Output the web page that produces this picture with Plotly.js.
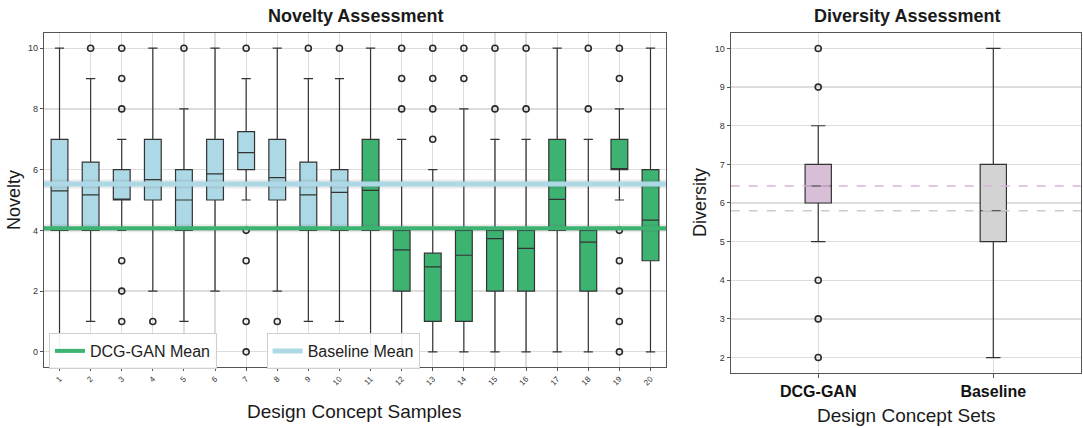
<!DOCTYPE html>
<html>
<head>
<meta charset="utf-8">
<script src="https://cdn.plot.ly/plotly-3.0.1.min.js"></script>
<style>html,body{margin:0;padding:0;background:#fff;}#chart{width:1083px;height:428px;}</style>
</head>
<body>
<div id="chart"></div>
<script>
// ---- Novelty assessment data (per design concept sample) ----
const novSamples = [1,2,3,4,5,6,7,8,9,10,11,12,13,14,15,16,17,18,19,20];
const novTickLabels = ["1","2","3","4","5","6","7","8","9","10","11","12","13","14","15","16","17","18","19","20"];
const novQ1     = [4, 4, 5, 5, 4, 5, 6,    5, 4,    4,    4, 2,    1,    1, 2,    2,    4, 2,    6, 3];
const novMedian = [5.3, 5.17, 5, 5.67, 5, 5.86, 6.56, 5.74, 5.17, 5.25, 5.32, 3.36, 2.8, 3.18, 3.73, 3.41, 5.02, 3.61, 6, 4.34];
const novQ3     = [7, 6.25, 6, 7, 6, 7, 7.25, 7, 6.25, 6, 7, 4, 3.25, 4, 4, 4, 7, 4, 7, 6];
const novLow    = [0, 1, 4, 2, 1, 2, 5, 2, 1, 1, 0, 0, 0, 0, 0, 0, 0, 0, 5, 0];
const novHigh   = [10, 9, 7, 10, 8, 10, 9, 10, 9, 9, 10, 7, 6, 8, 7, 7, 10, 7, 8, 10];
const novOutliers = [
  [], [10], [1,2,3,8,9,10], [1], [10], [], [0,1,3,4,10], [1], [10], [10],
  [], [8,9,10], [7,8,9,10], [9,10], [8,10], [8,10], [], [8,10], [0,1,2,3,4,9,10], []
];
const novGroupNames = ["DCG-GAN", "Baseline"];
const novMeans = [4.07, 5.53];   // DCG-GAN mean, Baseline mean

// ---- Diversity assessment data ----
const divSets = ["DCG-GAN", "Baseline"];
const divPos = [1, 2];
const divQ1 = [6, 5];
const divMedian = [6.44, 5.8];
const divQ3 = [7, 7];
const divLow = [5, 2];
const divHigh = [8, 10];
const divOutliers = [[2,3,4,9,10], []];
const divRefLines = [6.44, 5.8];

const FONT = "Liberation Sans, Arial, Helvetica, sans-serif";
const BLUE = "#add8e6", GREEN = "#3cb371", PINK = "#d8bfd8", GREY = "#d3d3d3";
const EDGE = "#333333";

function pick(arr, idx){ return idx.map(i => arr[i]); }
const blueIdx = [0,1,2,3,4,5,6,7,8,9];
const greenIdx = [10,11,12,13,14,15,16,17,18,19];

function novBox(idx, color){
  return {
    type: "box", xaxis: "x", yaxis: "y",
    x: pick(novSamples, idx),
    q1: pick(novQ1, idx), median: pick(novMedian, idx), q3: pick(novQ3, idx),
    lowerfence: pick(novLow, idx), upperfence: pick(novHigh, idx),
    boxpoints: false, width: 0.54, whiskerwidth: 0.55,
    fillcolor: color, line: {color: EDGE, width: 1.2},
    showlegend: false, hoverinfo: "skip"
  };
}

const outX = [], outY = [];
novOutliers.forEach((list, i) => list.forEach(v => { outX.push(novSamples[i]); outY.push(v); }));
const dOutX = [], dOutY = [];
divOutliers.forEach((list, i) => list.forEach(v => { dOutX.push(divPos[i]); dOutY.push(v); }));

const marker = {symbol: "circle-open", size: 6, color: "#2a2a2a", line: {width: 1.6}};
const xr = [0.5, 20.5];

const traces = [
  novBox(blueIdx, BLUE),
  novBox(greenIdx, GREEN),
  {type: "scatter", mode: "markers", x: outX, y: outY, xaxis: "x", yaxis: "y",
   marker: marker, showlegend: false, hoverinfo: "skip"},
  // soft shadows under the mean lines
  {type: "scatter", mode: "lines", x: xr, y: [novMeans[1], novMeans[1]], xaxis: "x", yaxis: "y",
   line: {color: "rgba(90,90,90,0.13)", width: 9}, showlegend: false, hoverinfo: "skip"},
  {type: "scatter", mode: "lines", x: xr, y: [novMeans[0], novMeans[0]], xaxis: "x", yaxis: "y",
   line: {color: "rgba(90,90,90,0.13)", width: 8}, showlegend: false, hoverinfo: "skip"},
  {type: "scatter", mode: "lines", x: xr, y: [novMeans[1], novMeans[1]], xaxis: "x", yaxis: "y",
   line: {color: BLUE, width: 5}, name: novGroupNames[1] + " Mean", legend: "legend2", hoverinfo: "skip"},
  {type: "scatter", mode: "lines", x: xr, y: [novMeans[0], novMeans[0]], xaxis: "x", yaxis: "y",
   line: {color: GREEN, width: 4}, name: novGroupNames[0] + " Mean", legend: "legend", hoverinfo: "skip"},

  // Diversity
  {type: "scatter", mode: "lines", x: [0.5, 2.5], y: [divRefLines[0], divRefLines[0]], xaxis: "x2", yaxis: "y2",
   line: {color: "#d6b6d6", width: 1.3, dash: "dash"}, showlegend: false, hoverinfo: "skip"},
  {type: "scatter", mode: "lines", x: [0.5, 2.5], y: [divRefLines[1], divRefLines[1]], xaxis: "x2", yaxis: "y2",
   line: {color: "#cccccc", width: 1.3, dash: "dash"}, showlegend: false, hoverinfo: "skip"},
  {type: "box", xaxis: "x2", yaxis: "y2", x: [divPos[0]],
   q1: [divQ1[0]], median: [divMedian[0]], q3: [divQ3[0]], lowerfence: [divLow[0]], upperfence: [divHigh[0]],
   boxpoints: false, width: 0.15, whiskerwidth: 0.55, fillcolor: PINK, line: {color: EDGE, width: 1.2},
   showlegend: false, hoverinfo: "skip"},
  {type: "box", xaxis: "x2", yaxis: "y2", x: [divPos[1]],
   q1: [divQ1[1]], median: [divMedian[1]], q3: [divQ3[1]], lowerfence: [divLow[1]], upperfence: [divHigh[1]],
   boxpoints: false, width: 0.15, whiskerwidth: 0.55, fillcolor: GREY, line: {color: EDGE, width: 1.2},
   showlegend: false, hoverinfo: "skip"},
  {type: "scatter", mode: "markers", x: dOutX, y: dOutY, xaxis: "x2", yaxis: "y2",
   marker: marker, showlegend: false, hoverinfo: "skip"}
];

const axisCommon = {
  showgrid: true, gridcolor: "#dcdcdc", gridwidth: 1.2, zeroline: false,
  showline: true, mirror: true, linecolor: "#555", linewidth: 1.2,
  ticks: "outside", ticklen: 3, tickcolor: "#555", automargin: false,
  tickfont: {family: FONT, size: 9, color: "#333"}
};

const legendCommon = {
  xanchor: "left", yanchor: "top", bgcolor: "rgba(255,255,255,0.92)",
  bordercolor: "#cfcfcf", borderwidth: 1, font: {family: FONT, size: 16, color: "#222"},
  itemwidth: 30
};

function ann(text, xpx, ypx, size, extra){
  return Object.assign({text: text, x: xpx / 1083, y: 1 - ypx / 428, xref: "paper", yref: "paper",
    xanchor: "center", yanchor: "middle", showarrow: false,
    font: {family: FONT, size: size, color: "#1a1a1a"}}, extra || {});
}

const layout = {
  width: 1083, height: 428,
  margin: {l: 0, r: 0, t: 0, b: 0},
  paper_bgcolor: "#fff", plot_bgcolor: "#fff",
  boxmode: "overlay",
  font: {family: FONT},
  xaxis: Object.assign({}, axisCommon, {
    domain: [0.0406, 0.615], range: [0.5, 20.5], anchor: "y",
    tickvals: novSamples, ticktext: novTickLabels, tickangle: -45,
    tickfont: {family: FONT, size: 8, color: "#333"}
  }),
  yaxis: Object.assign({}, axisCommon, {
    domain: [0.1425, 0.9229], range: [-0.5, 10.5], anchor: "x",
    tickvals: [0,2,4,6,8,10]
  }),
  xaxis2: Object.assign({}, axisCommon, {
    domain: [0.6747, 0.998], range: [0.5, 2.5], anchor: "y2",
    tickvals: divPos, ticktext: divSets, ticklen: 4,
    tickfont: {family: FONT, size: 16, color: "#111", weight: "bold"}
  }),
  yaxis2: Object.assign({}, axisCommon, {
    domain: [0.1285, 0.9229], range: [1.6, 10.4], anchor: "x2",
    tickvals: [2,3,4,5,6,7,8,9,10]
  }),
  legend: Object.assign({}, legendCommon, {x: 0.0452, y: 0.222}),
  legend2: Object.assign({}, legendCommon, {x: 0.2462, y: 0.222}),
  annotations: [
    ann("<b>Novelty Assessment</b>", 355, 16, 18),
    ann("<b>Diversity Assessment</b>", 907, 16, 18),
    ann("Design Concept Samples", 354, 411, 19),
    ann("Design Concept Sets", 906, 415, 19),
    ann("Novelty", 14, 200, 18, {textangle: -90}),
    ann("Diversity", 700, 203, 18, {textangle: -90})
  ]
};

Plotly.newPlot("chart", traces, layout, {displayModeBar: false, staticPlot: true});
</script>
</body>
</html>
